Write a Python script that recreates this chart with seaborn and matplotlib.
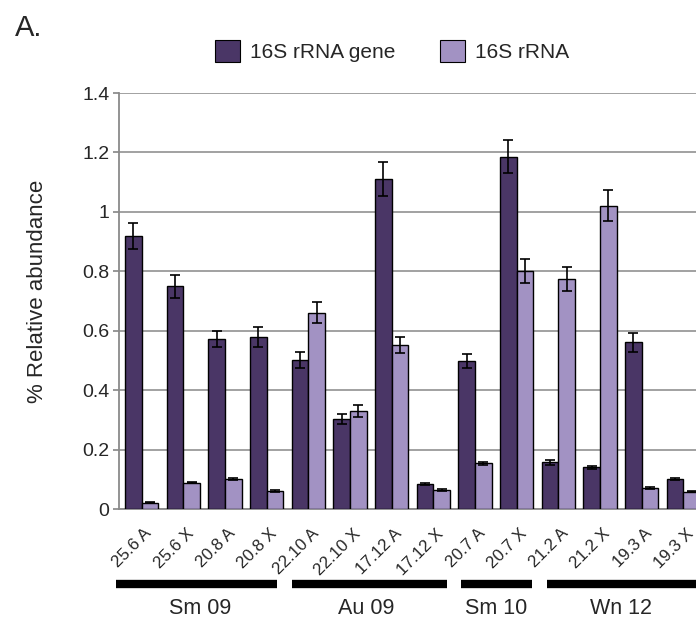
import matplotlib
matplotlib.use("Agg")
import matplotlib.pyplot as plt
import matplotlib.transforms as mtransforms
from matplotlib.patches import Patch
import seaborn as sns
import pandas as pd
import numpy as np

samples = ["25.6 A", "25.6 X", "20.8 A", "20.8 X", "22.10 A", "22.10 X", "17.12 A",
           "17.12 X", "20.7 A", "20.7 X", "21.2 A", "21.2 X", "19.3 A", "19.3 X"]
gene_vals = [0.919, 0.749, 0.572, 0.580, 0.500, 0.303, 1.112, 0.083, 0.498, 1.186,
             0.157, 0.140, 0.561, 0.100]
gene_err = [0.043, 0.040, 0.028, 0.034, 0.027, 0.018, 0.057, 0.003, 0.024, 0.056,
            0.008, 0.006, 0.031, 0.004]
rna_vals = [0.021, 0.089, 0.101, 0.061, 0.661, 0.331, 0.552, 0.064, 0.154, 0.801,
            0.773, 1.021, 0.070, 0.058]
rna_err = [0.002, 0.003, 0.003, 0.003, 0.034, 0.020, 0.028, 0.002, 0.005, 0.040,
           0.040, 0.053, 0.003, 0.002]
series = ["16S rRNA gene", "16S rRNA"]
seasons = ["Sm 09", "Au 09", "Sm 10", "Wn 12"]
season_spans = [(-0.6, 3.25), (3.6, 7.33), (7.66, 9.36), (9.72, 13.5)]
season_label_x = [1.4, 5.4, 8.5, 11.5]
yticks = [0, 0.2, 0.4, 0.6, 0.8, 1.0, 1.2, 1.4]
ytick_labels = ["0", "0.2", "0.4", "0.6", "0.8", "1", "1.2", "1.4"]

colors = {"16S rRNA gene": "#4a3666", "16S rRNA": "#a292c3"}

df = pd.DataFrame({
    "sample": samples * 2,
    "series": [series[0]] * len(samples) + [series[1]] * len(samples),
    "value": gene_vals + rna_vals,
    "err": gene_err + rna_err,
})

sns.set_theme(style="white")
plt.rcParams["font.family"] = ["Liberation Sans", "DejaVu Sans"]

fig = plt.figure(figsize=(6.96, 6.2), dpi=100)
ax = fig.add_axes([119 / 696, (620 - 509) / 620, 1 - 119 / 696, (509 - 93) / 620])

sns.barplot(data=df, x="sample", y="value", hue="series", hue_order=series,
            order=samples, palette=colors, errorbar=None, width=0.8,
            edgecolor="black", linewidth=1.0, saturation=1, ax=ax, legend=False,
            zorder=3)

# error bars at bar tops
bars = [p for p in ax.patches]
errs = gene_err + rna_err
xs = [b.get_x() + b.get_width() / 2 for b in bars]
hs = [b.get_height() for b in bars]
ax.errorbar(xs, hs, yerr=errs, fmt="none", ecolor="black", elinewidth=1.2,
            capsize=3.5, capthick=1.2, zorder=4)

ax.set_ylim(0, 1.4)
ax.set_xlim(-0.54, 13.3)
ax.set_yticks(yticks)
ax.set_yticklabels(ytick_labels, fontsize=14)
ax.yaxis.grid(True, color="#9a9a9a", linewidth=1.3, zorder=0)
ax.set_axisbelow(True)
for s in ["top", "right"]:
    ax.spines[s].set_visible(False)
ax.spines["left"].set_color("#8a8a8a")
ax.spines["left"].set_linewidth(1.3)
ax.spines["bottom"].set_color("#8a8a8a")
ax.spines["bottom"].set_linewidth(1.3)
ax.tick_params(axis="y", left=True, length=4, color="#8a8a8a", pad=3)
ax.tick_params(axis="x", bottom=False, pad=4)
ax.set_xlabel("")
ax.set_ylabel("% Relative abundance", fontsize=16)
ax.yaxis.set_label_coords(-0.123, 0.524)

ax.set_xticks(range(len(samples)))
ax.set_xticklabels(samples, rotation=45, ha="right", rotation_mode="anchor",
                   fontsize=12.2)
offset = mtransforms.ScaledTranslation(0.025, -0.03, fig.dpi_scale_trans)
for lab in ax.get_xticklabels():
    lab.set_transform(lab.get_transform() + offset)

trans = mtransforms.blended_transform_factory(ax.transData, ax.transAxes)
for (x0, x1), name, lx in zip(season_spans, seasons, season_label_x):
    ax.plot([x0, x1], [-0.181, -0.181], color="black", linewidth=6,
            solid_capstyle="butt", transform=trans, clip_on=False)
    ax.text(lx, -0.238, name, transform=trans, ha="center", va="center",
            fontsize=15.5)

handles = [Patch(facecolor=colors[s], edgecolor="black", linewidth=0.8) for s in series]
fig.legend(handles, series, loc="center", bbox_to_anchor=(392 / 696, 1 - 51 / 620),
           ncol=2, frameon=False, fontsize=15, handlelength=1.2, handleheight=1.2,
           columnspacing=2.1, handletextpad=0.5)

fig.text(15 / 696, 1 - 28 / 620, "A.", fontsize=21, ha="left", va="center")

fig.savefig("out.png", dpi=100)
